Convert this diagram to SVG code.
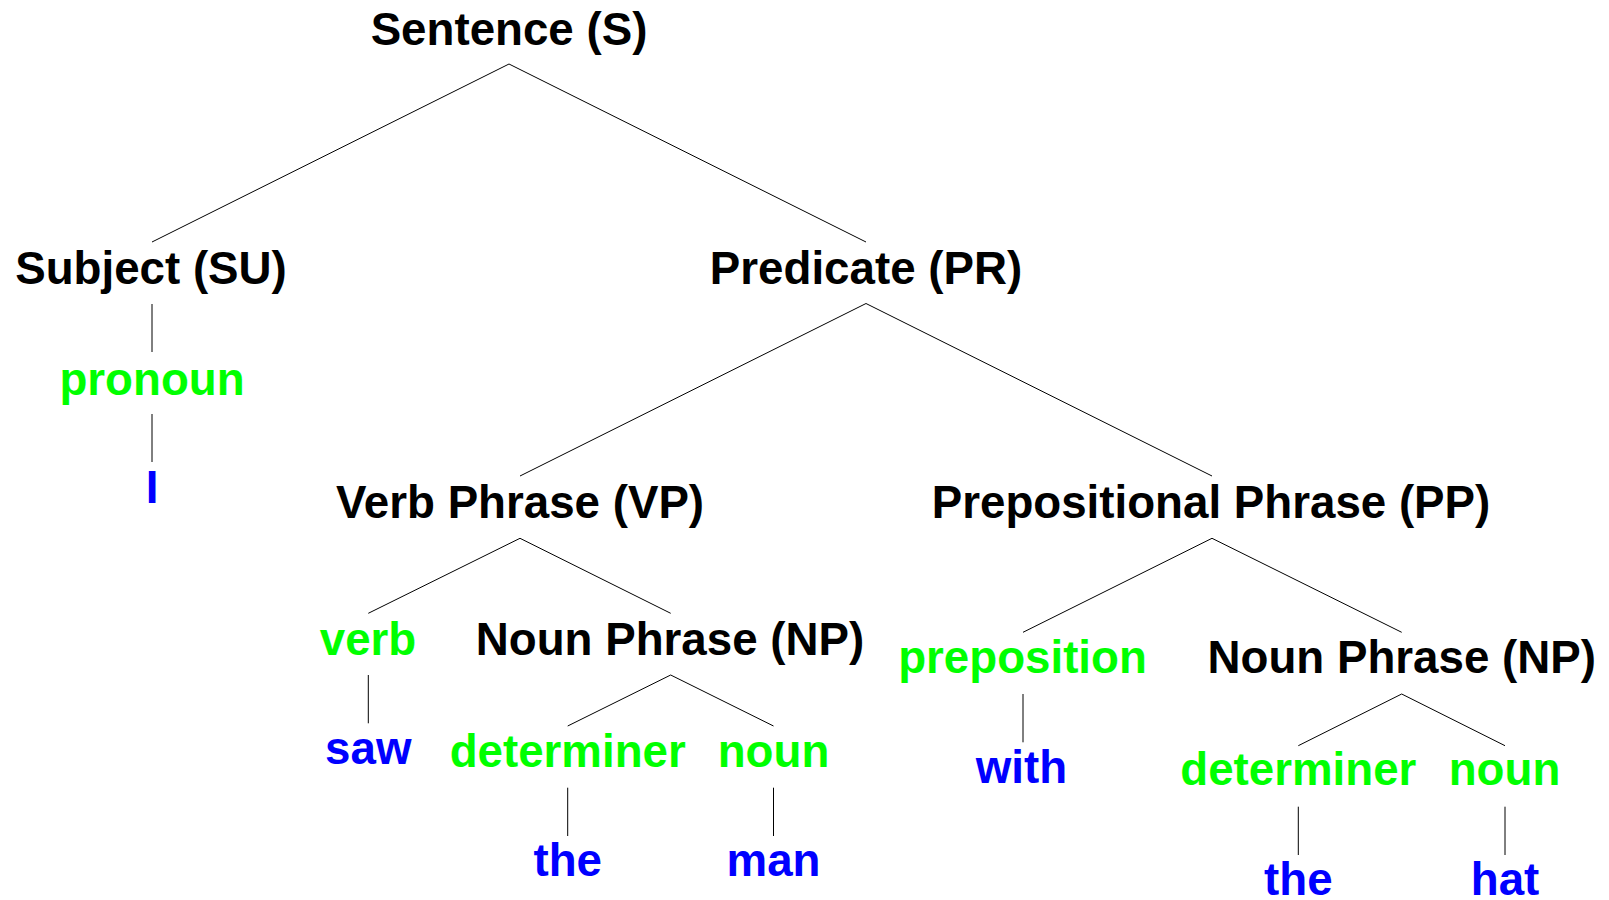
<svg xmlns="http://www.w3.org/2000/svg" width="1609" height="900" viewBox="0 0 1609 900">
  <style>
    text { font-family: "Liberation Sans", Arial, sans-serif; font-weight: bold; font-size: 45.7px; text-anchor: middle; }
    .phrase { fill: #000000; }
    .cat { fill: #00ff00; }
    .word { fill: #0000ff; }
    .edges line { stroke: #000000; stroke-width: 1; fill: none; }
  </style>
  <rect width="1609" height="900" fill="#ffffff"/>

  <!-- tree branches -->
  <g id="connectors" class="edges">
    <line x1="509" y1="64" x2="152" y2="242"/>
    <line x1="509" y1="64" x2="866" y2="242"/>
    <line x1="152" y1="304" x2="152" y2="352"/>
    <line x1="152" y1="414" x2="152" y2="462"/>
    <line x1="866" y1="303.5" x2="520" y2="476"/>
    <line x1="866" y1="303.5" x2="1212" y2="476"/>
    <line x1="520" y1="538.3" x2="368.3" y2="613.3"/>
    <line x1="520" y1="538.3" x2="670.7" y2="613.3"/>
    <line x1="368.3" y1="675" x2="368.3" y2="723.3"/>
    <line x1="670.7" y1="675" x2="567.7" y2="726"/>
    <line x1="670.7" y1="675" x2="773.5" y2="726"/>
    <line x1="567.7" y1="787.7" x2="567.7" y2="836"/>
    <line x1="773.5" y1="787.7" x2="773.5" y2="836"/>
    <line x1="1212" y1="538.3" x2="1023" y2="632.3"/>
    <line x1="1212" y1="538.3" x2="1401.7" y2="632.3"/>
    <line x1="1023" y1="694" x2="1023" y2="742.3"/>
    <line x1="1401.7" y1="694" x2="1298.3" y2="745.7"/>
    <line x1="1401.7" y1="694" x2="1505" y2="745.7"/>
    <line x1="1298.3" y1="806.7" x2="1298.3" y2="855"/>
    <line x1="1505" y1="806.7" x2="1505" y2="855"/>
  </g>

  <!-- phrase nodes -->
  <g id="node-s"><text class="phrase" x="509" y="45">Sentence (S)</text></g>
  <g id="node-su"><text class="phrase" x="151" y="283.5">Subject (SU)</text></g>
  <g id="node-pr"><text class="phrase" x="866" y="283.5">Predicate (PR)</text></g>
  <g id="node-vp"><text class="phrase" x="520" y="517.5">Verb Phrase (VP)</text></g>
  <g id="node-pp"><text class="phrase" x="1211" y="517.5">Prepositional Phrase (PP)</text></g>
  <g id="node-np1"><text class="phrase" x="670" y="654.5">Noun Phrase (NP)</text></g>
  <g id="node-np2"><text class="phrase" x="1401.7" y="673">Noun Phrase (NP)</text></g>

  <!-- word-class nodes -->
  <g id="node-pronoun"><text class="cat" x="152" y="395">pronoun</text></g>
  <g id="node-verb"><text class="cat" x="368" y="654.5">verb</text></g>
  <g id="node-det1"><text class="cat" x="567.7" y="766.7">determiner</text></g>
  <g id="node-noun1"><text class="cat" x="773.5" y="766.7">noun</text></g>
  <g id="node-prep"><text class="cat" x="1022.5" y="673">preposition</text></g>
  <g id="node-det2"><text class="cat" x="1298.3" y="785">determiner</text></g>
  <g id="node-noun2"><text class="cat" x="1504.5" y="785">noun</text></g>

  <!-- words -->
  <g id="node-i"><text class="word" x="152" y="503">I</text></g>
  <g id="node-saw"><text class="word" x="368.3" y="764">saw</text></g>
  <g id="node-the1"><text class="word" x="567.7" y="876">the</text></g>
  <g id="node-man"><text class="word" x="773.5" y="876">man</text></g>
  <g id="node-with"><text class="word" x="1021.5" y="783.3">with</text></g>
  <g id="node-the2"><text class="word" x="1298.3" y="895">the</text></g>
  <g id="node-hat"><text class="word" x="1505" y="895">hat</text></g>
</svg>
